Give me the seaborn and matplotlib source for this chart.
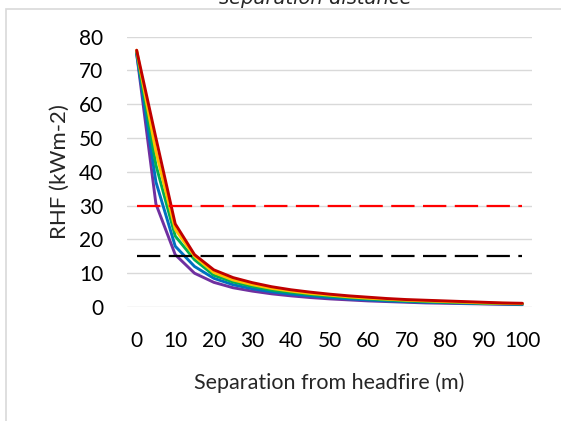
import pandas as pd
import matplotlib.pyplot as plt
import seaborn as sns
from matplotlib.patches import Rectangle

# Separation from headfire (m)
distancia = [0, 5, 10, 15, 20, 25, 30, 35, 40, 45, 50,
             55, 60, 65, 70, 75, 80, 85, 90, 95, 100]

# RHF (kWm-2) per curve
rhf_vermelho = [76, 50, 24.6, 15.5, 11, 8.7, 7.2, 6.0, 5.1, 4.4, 3.8,
                3.3, 2.9, 2.5, 2.2, 2.0, 1.8, 1.6, 1.4, 1.2, 1.1]
rhf_amarelo = [76, 46, 23, 15, 10.2, 8.0, 6.6, 5.5, 4.7, 4.0, 3.5,
               3.0, 2.6, 2.3, 2.0, 1.8, 1.6, 1.4, 1.2, 1.1, 1.0]
rhf_verde = [75.5, 42, 21, 14, 9.4, 7.4, 6.1, 5.0, 4.3, 3.7, 3.2,
             2.8, 2.4, 2.1, 1.8, 1.6, 1.4, 1.3, 1.1, 1.0, 0.9]
rhf_azul = [75, 37, 18, 12, 8.5, 6.6, 5.4, 4.5, 3.8, 3.3, 2.8,
            2.4, 2.1, 1.8, 1.6, 1.4, 1.3, 1.1, 1.0, 0.9, 0.8]
rhf_roxo = [75, 30.5, 15.5, 10, 7.3, 5.7, 4.7, 3.9, 3.3, 2.8, 2.4,
            2.1, 1.8, 1.6, 1.4, 1.2, 1.1, 1.0, 0.9, 0.8, 0.7]

series = {'roxo': rhf_roxo, 'azul': rhf_azul, 'verde': rhf_verde,
          'amarelo': rhf_amarelo, 'vermelho': rhf_vermelho}
cores = {'roxo': '#7030A0', 'azul': '#0070C0', 'verde': '#00B050',
         'amarelo': '#FFC000', 'vermelho': '#C00000'}

limite_alto = 30
limite_baixo = 15

dados = pd.concat(
    [pd.DataFrame({'distancia': distancia, 'rhf': v, 'curva': k}) for k, v in series.items()],
    ignore_index=True)

sns.set_style('white')
plt.rcParams['font.family'] = ['Lato', 'DejaVu Sans']

fig = plt.figure(figsize=(5.61, 4.21), dpi=100)
ax = fig.add_axes([127 / 561, 1 - 307 / 421, 405 / 561, 270.3 / 421])

sns.lineplot(data=dados, x='distancia', y='rhf', hue='curva', palette=cores,
             linewidth=2.1, legend=False, ax=ax)

ax.hlines(limite_alto, distancia[0], distancia[-1], colors='#FF0000',
          linewidth=1.6, linestyles=(0, (10.5, 3.8)), zorder=4)
ax.hlines(limite_baixo, distancia[0], distancia[-1], colors='black',
          linewidth=1.6, linestyles=(0, (10.5, 3.8)), zorder=4)

ax.set_xlim(-2.5, 102.5)
ax.set_ylim(0, 80)
ax.set_xticks(range(0, 101, 10))
ax.set_yticks(range(0, 81, 10))
ax.yaxis.grid(True, color='#D9D9D9', linewidth=1.0)
ax.set_axisbelow(True)
for lado in ['top', 'right', 'left', 'bottom']:
    ax.spines[lado].set_visible(False)
ax.tick_params(axis='both', length=0, labelsize=15, colors='#000000')
ax.tick_params(axis='y', pad=17)
ax.tick_params(axis='x', pad=17)

ax.set_xlabel('Separation from headfire (m)', fontsize=15.5, labelpad=16)
ax.set_ylabel('RHF (kWm-2)', fontsize=16, labelpad=7)

# titulo cortado no topo
fig.text(315 / 561, 1 - 4 / 421, 'separation distance', ha='center', va='baseline',
         fontsize=14, style='italic', family=['DejaVu Sans'])

# borda da area do grafico
fig.patches.append(Rectangle((6 / 561, -0.2), 2, 1.2 - 9 / 421, transform=fig.transFigure,
                             fill=False, edgecolor='#D9D9D9', linewidth=1.2))

fig.savefig('out.png', dpi=100)
